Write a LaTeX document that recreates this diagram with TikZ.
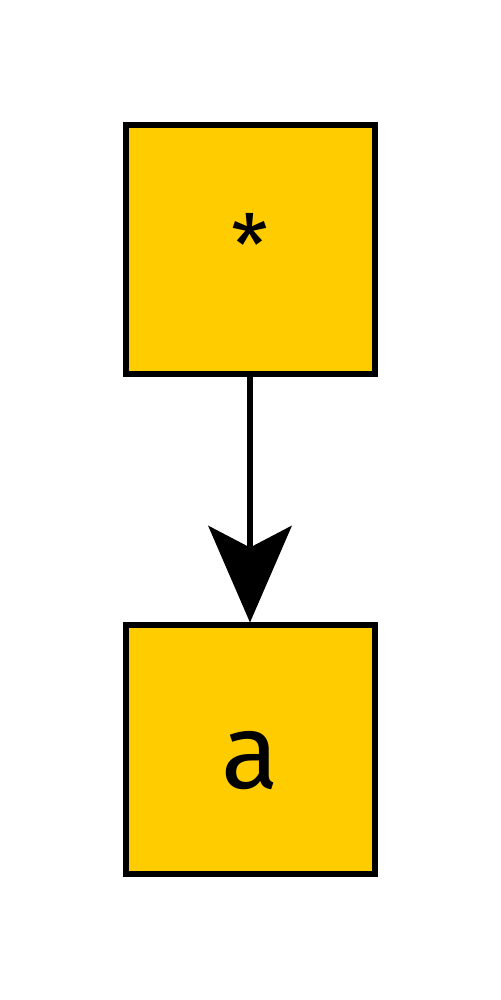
\documentclass[tikz,border=0pt]{standalone}
\usepackage{fontspec}
\setmainfont{Fira Sans}
\definecolor{boxyellow}{HTML}{FFCC00}
\begin{document}
\begin{tikzpicture}[x=1pt,y=1pt,
  box/.style={draw=black, fill=boxyellow, line width=3pt, minimum width=124.5pt, minimum height=124.5pt,
    inner sep=0pt, text height=39pt, text depth=0pt, font=\fontsize{53}{60}\selectfont}]
\useasboundingbox (0,0) rectangle (250,500);
\node[box, text height=26pt, font=\fontsize{42}{50}\selectfont] (s) at (125,375) {*};
\node[box] (a) at (125,125) {a};
\draw[line width=3pt] (s.south) -- ([yshift=37.5pt]a.north);
\fill (a.north) -- ++(-21,48.5) -- ++(21,-11) -- ++(21,11) -- cycle;
\end{tikzpicture}
\end{document}
